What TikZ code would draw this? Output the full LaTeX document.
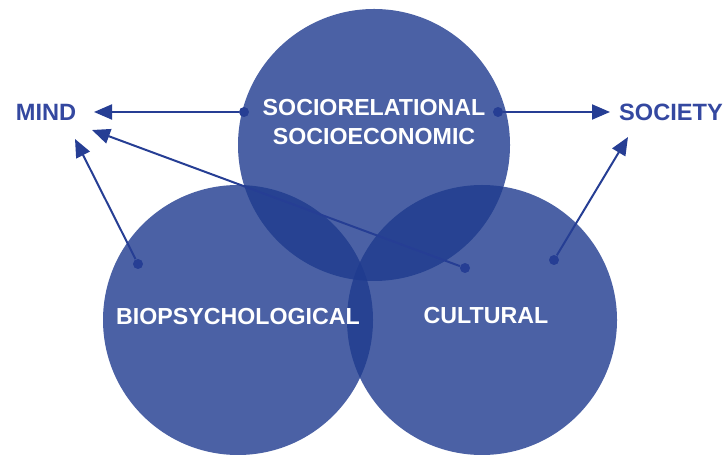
\documentclass[tikz,border=0pt]{standalone}
\usepackage{fontspec}
\setmainfont{Liberation Sans}
\usetikzlibrary{arrows.meta}

\definecolor{venn}{RGB}{30,58,142}
\definecolor{linkblue}{RGB}{38,62,148}
\definecolor{labelblue}{RGB}{52,72,160}

\begin{document}
\begin{tikzpicture}[x=0.5pt,y=0.5pt,
        sphere/.style={fill=venn,fill opacity=0.8,draw=none},
        inlabel/.style={text=white,font=\fontsize{11.6}{14.5}\selectfont\bfseries,align=center},
        outlabel/.style={text=labelblue,font=\fontsize{11.8}{14.5}\selectfont\bfseries},
        dot/.style={circle,fill=linkblue,inner sep=0pt,minimum size=5pt},
        link/.style={draw=linkblue,line width=1pt,-{Triangle[length=9pt,width=7.5pt]}}
    ]

    \useasboundingbox (0,0) rectangle (726,454);

    % the three spheres
    \fill[sphere] (374,309) circle (136);
    \fill[sphere] (238,134) circle (135);
    \fill[sphere] (482,134) circle (135);

    % outer labels and arrow ends
    \node[outlabel] (mind) at (46,342) {MIND};
    \node[outlabel] (society) at (671,342) {SOCIETY};
    \coordinate (mind-a) at (94,342);
    \coordinate (mind-b) at (92,324);
    \coordinate (mind-c) at (75,315);
    \coordinate (society-a) at (610,342);
    \coordinate (society-b) at (628,317);

    % start points
    \node[dot] (rel-l) at (244,342) {};
    \node[dot] (rel-r) at (498,342) {};
    \node[dot] (cult-l) at (465,186) {};
    \node[dot] (cult-r) at (554,194) {};
    \node[dot] (bio) at (138,190) {};

    \draw[link] (rel-l) -- (mind-a);
    \draw[link] (cult-l) -- (mind-b);
    \draw[link] (bio) -- (mind-c);
    \draw[link] (rel-r) -- (society-a);
    \draw[link] (cult-r) -- (society-b);

    % sphere labels
    \node[inlabel] (socio) at (374,332) {SOCIORELATIONAL\\SOCIOECONOMIC};
    \node[inlabel] (biopsy) at (238,137) {BIOPSYCHOLOGICAL};
    \node[inlabel] (cultural) at (486,138) {CULTURAL};

\end{tikzpicture}
\end{document}
